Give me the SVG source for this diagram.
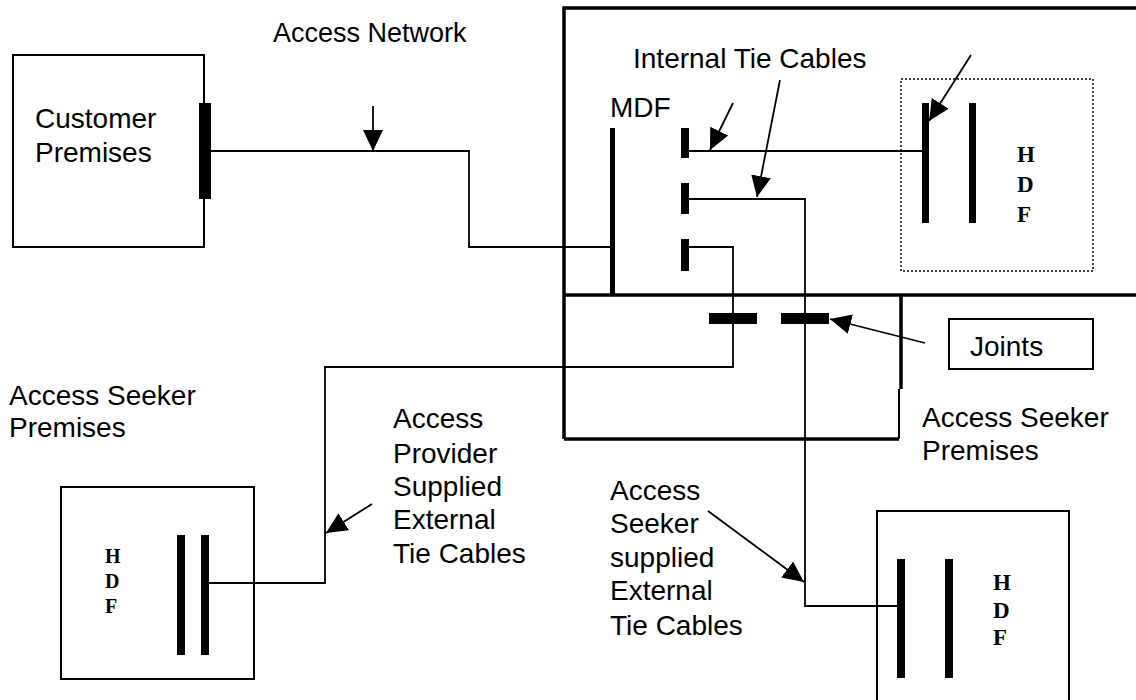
<svg xmlns="http://www.w3.org/2000/svg" width="1136" height="700" viewBox="0 0 1136 700">
<style>
text{font-family:"Liberation Sans",Arial,sans-serif;font-size:28px;fill:#000}
.hdf{font-family:"Liberation Serif","Times New Roman",serif;font-weight:bold;font-size:23px}
.box{fill:none;stroke:#000;stroke-width:2}
.thick{fill:none;stroke:#000;stroke-width:3.5}
.wire{fill:none;stroke:#000;stroke-width:1.8}
.bar{fill:#000}
.arr{fill:none;stroke:#000;stroke-width:1.8;marker-end:url(#ah)}
</style>
<defs>
<marker id="ah" markerUnits="userSpaceOnUse" markerWidth="22" markerHeight="22" viewBox="0 0 22 22" refX="21" refY="11" orient="auto">
<path d="M0,1 L21,11 L0,21 z" fill="#000"/>
</marker>
</defs>
<rect width="1136" height="700" fill="#fff"/>

<g id="exchange">
<path class="thick" d="M564,439 V8 H1136"/>
<path class="thick" d="M564,295 H1136"/>
<path class="thick" d="M564,439 H899"/>
<path class="thick" d="M901,295 V389"/>
<path class="box" d="M899,389 V439"/>
</g>

<g id="access-network-label">
<text x="273" y="42" style="font-size:27px">Access Network</text>
</g>

<g id="customer-premises">
<rect class="box" x="13" y="55" width="191" height="192"/>
<rect class="bar" x="199" y="103" width="12" height="96"/>
<text x="35" y="128">Customer</text>
<text x="35" y="162">Premises</text>
</g>

<g id="mdf">
<text x="610" y="117">MDF</text>
<rect class="bar" x="610" y="128" width="5" height="167"/>
<rect class="bar" x="681" y="128" width="8" height="30"/>
<rect class="bar" x="681" y="183" width="8" height="31"/>
<rect class="bar" x="681" y="239" width="8" height="32"/>
</g>

<g id="internal-tie-label">
<text x="633" y="68">Internal Tie Cables</text>
</g>

<g id="hdf-internal">
<rect x="901" y="79" width="192" height="192" fill="none" stroke="#000" stroke-width="1.5" stroke-dasharray="2 2"/>
<rect class="bar" x="922" y="103" width="7" height="120"/>
<rect class="bar" x="969" y="103" width="7" height="120"/>
<text class="hdf" x="1017" y="162">H</text>
<text class="hdf" x="1017" y="192">D</text>
<text class="hdf" x="1017" y="222">F</text>
</g>

<g id="joints">
<rect class="bar" x="709" y="313" width="48" height="11"/>
<rect class="bar" x="781" y="313" width="48" height="11"/>
<rect class="box" x="949" y="319" width="144" height="50"/>
<text x="970" y="356">Joints</text>
</g>

<g id="access-seeker-premises-right">
<text x="922" y="427">Access Seeker</text>
<text x="922" y="460">Premises</text>
</g>

<g id="access-seeker-premises-left">
<text x="9" y="405">Access Seeker</text>
<text x="9" y="437">Premises</text>
</g>

<g id="hdf-left">
<rect class="box" x="61" y="487" width="193" height="192"/>
<rect class="bar" x="177" y="535" width="8" height="120"/>
<rect class="bar" x="201" y="535" width="8" height="120"/>
<text class="hdf" x="105" y="563" style="font-size:20px">H</text>
<text class="hdf" x="105" y="588" style="font-size:20px">D</text>
<text class="hdf" x="105" y="613" style="font-size:20px">F</text>
</g>

<g id="provider-label">
<text x="393" y="428">Access</text>
<text x="393" y="463">Provider</text>
<text x="393" y="496">Supplied</text>
<text x="393" y="529">External</text>
<text x="393" y="563">Tie Cables</text>
</g>

<g id="seeker-label">
<text x="610" y="500">Access</text>
<text x="610" y="533">Seeker</text>
<text x="610" y="567">supplied</text>
<text x="610" y="600">External</text>
<text x="610" y="635">Tie Cables</text>
</g>

<g id="hdf-right">
<path class="box" d="M877,702 V511 H1069 V702"/>
<rect class="bar" x="897" y="559" width="8" height="119"/>
<rect class="bar" x="945" y="559" width="8" height="119"/>
<text class="hdf" x="993" y="590">H</text>
<text class="hdf" x="993" y="618">D</text>
<text class="hdf" x="993" y="645">F</text>
</g>

<g id="connectors">
<path class="wire" d="M211,151 H469 V247 H612"/>
<path class="wire" d="M689,151 H922"/>
<path class="wire" d="M689,199 H805 V606 H897"/>
<path class="wire" d="M689,247 H733 V367 H325 V583 H209"/>
<path class="arr" d="M373,106 V151"/>
<path class="arr" d="M733,103 L710,150"/>
<path class="arr" d="M780,80 L757,197"/>
<path class="arr" d="M971,55 L929,121"/>
<path class="arr" d="M925,343 L830,319"/>
<path class="arr" d="M372,504 L326,533"/>
<path class="arr" d="M708,511 L804,582"/>
</g>
</svg>
